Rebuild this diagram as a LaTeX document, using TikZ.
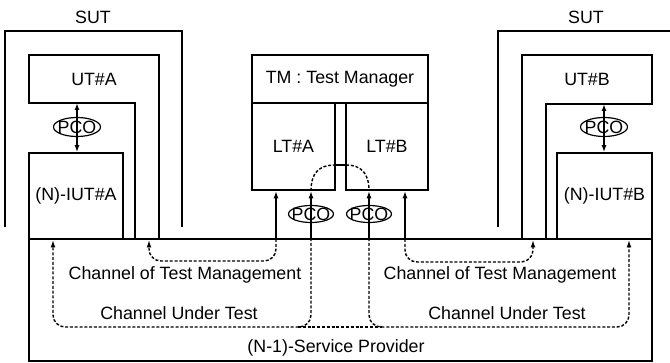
\documentclass[tikz,border=0pt]{standalone}
\usepackage{fontspec}
\setmainfont{Liberation Sans}
\usetikzlibrary{arrows.meta,shapes.geometric}
\begin{document}
\begin{tikzpicture}[x=1pt,y=-1pt,
  every node/.style={font=\fontsize{17.8}{20}\selectfont, inner sep=0pt},
  line/.style={line width=1.6pt},
  box/.style={draw, line width=1.6pt, rectangle, inner sep=0pt},
  pco/.style={draw, ellipse, line width=1.2pt, minimum width=47pt, minimum height=19pt, inner sep=0pt},
  tip/.style={-{Latex[length=7.5pt,width=5pt]}},
  bitip/.style={{Latex[length=7pt,width=5pt]}-{Latex[length=7pt,width=5pt]}},
  chan/.style={line width=1.4pt, dash pattern=on 3pt off 1.8pt, rounded corners=12pt},
]
\useasboundingbox (0,0) rectangle (670,363);

% ---- system under test A ----
\node (sutA) at (93,17) {SUT};
\draw[line] (5,227) -- (5,31) -- (182,31) -- (182,227);
\draw[line] (135,239) -- (135,103) -- (29,103) -- (29,55) -- (159,55) -- (159,239);
\node (utA) at (94,79) {UT\#A};
\node[box, minimum width=94pt, minimum height=86pt] (iutA) at (76,196) {(N)-IUT\#A};
\coordinate (utAb) at (77,103);
\node[pco, label={center:PCO}] (pcoA) at (77,127) {};
\draw[line, bitip] (utAb) -- (utAb |- iutA.north);

% ---- system under test B ----
\node (sutB) at (586,17) {SUT};
\draw[line] (498,227) -- (498,31) -- (670,31);
\draw[line] (546,239) -- (546,104) -- (652,104) -- (652,55) -- (522,55) -- (522,239);
\node (utB) at (587,79) {UT\#B};
\node[box, minimum width=95pt, minimum height=86pt] (iutB) at (604.5,196) {(N)-IUT\#B};
\coordinate (utBb) at (604,104);
\node[pco, label={center:PCO}] (pcoB) at (604,127) {};
\draw[line, bitip] (utBb) -- (utBb |- iutB.north);

% ---- test system ----
\node[box, minimum width=176pt, minimum height=48pt] (tm) at (340,79) {TM : Test Manager};
\node[box, minimum width=83pt, minimum height=87pt] (ltA) at (293.5,146.5) {LT\#A};
\node[box, minimum width=82pt, minimum height=87pt] (ltB) at (387,146.5) {LT\#B};

% ---- service provider ----
\node[box, minimum width=623pt, minimum height=122pt] (sp) at (340.5,300) {};
\node (spl) at (336,348) {(N-1)-Service Provider};

% points of attachment on the provider
\coordinate (mA) at (276,239);
\coordinate (mB) at (405,239);
\coordinate (legA) at (149,240);
\coordinate (legB) at (533,240);
\coordinate (iA) at (53,240);
\coordinate (iB) at (629,240);

% PCOs of the lower testers
\node[pco, minimum width=45pt, minimum height=17pt, label={center:PCO}] (pcoLA) at (311,214) {};
\node[pco, minimum width=45pt, minimum height=17pt, label={center:PCO}] (pcoLB) at (369,214) {};

\draw[line, tip] (mA) -- (mA |- ltA.south);
\draw[line, tip] (mB) -- (mB |- ltB.south);
\draw[line, tip] (sp.north -| pcoLA) -- (ltA.south -| pcoLA);
\draw[line, tip] (sp.north -| pcoLB) -- (ltB.south -| pcoLB);

% path through the lower testers
\coordinate (arcA) at (335,165);
\coordinate (arcB) at (346,165);
\draw[chan] (ltA.south -| pcoLA) .. controls (311,173) and (319,165) .. (arcA);
\draw[line, line width=1.3pt] (arcA) -- (arcB);
\draw[chan] (arcB) .. controls (361,165) and (369,173) .. (ltB.south -| pcoLB);

% channels of test management
\draw[chan, tip] (mA) -- (276,261) -- (149,261) -- (legA);
\node (ctmA) at (185,275) {Channel of Test Management};
\draw[chan, tip] (mB) -- (405,262) -- (533,262) -- (legB);
\node (ctmB) at (500,275) {Channel of Test Management};

% channels under test
\draw[chan, tip] (sp.north -| pcoLA) -- (311,327) -- (53,327) -- (iA);
\draw[chan, tip] (sp.north -| pcoLB) -- (369,327) -- (629,327) -- (iB);
\coordinate (cutL) at (298,327);
\coordinate (cutR) at (382,327);
\draw[chan] (cutL) -- (cutR);
\node (cutlA) at (179,313) {Channel Under Test};
\node (cutlB) at (507,313) {Channel Under Test};
\end{tikzpicture}
\end{document}
